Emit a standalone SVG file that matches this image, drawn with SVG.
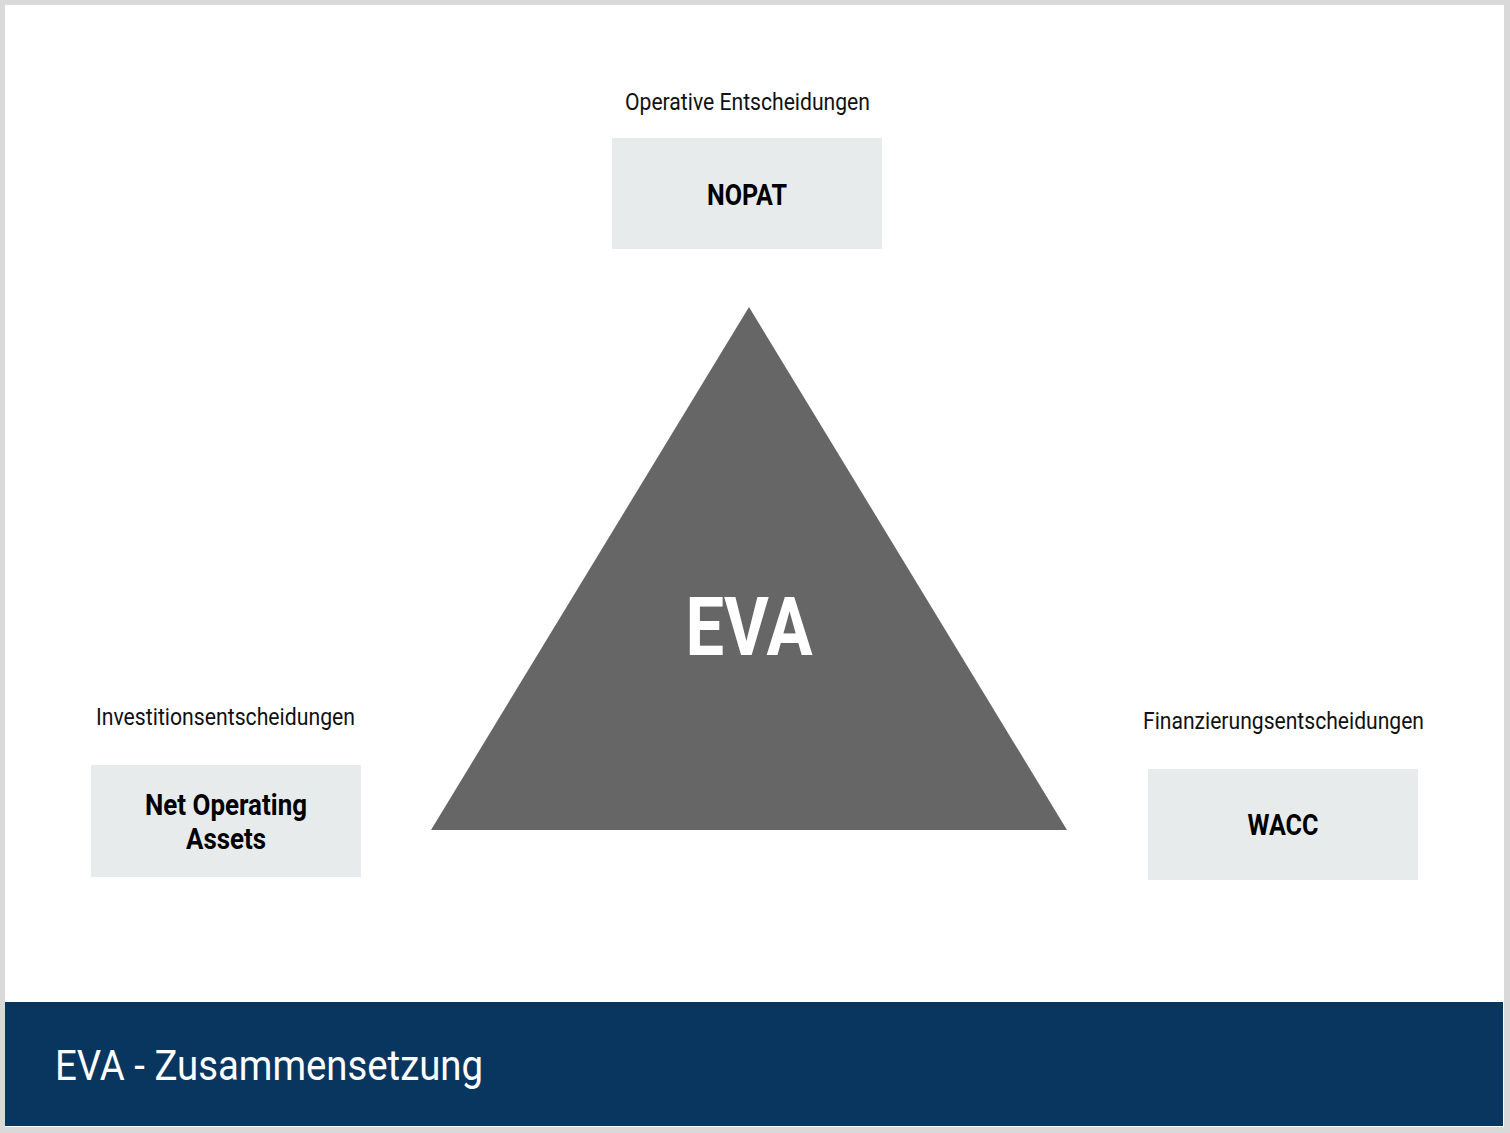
<svg xmlns="http://www.w3.org/2000/svg" width="1510" height="1133" viewBox="0 0 1510 1133">
<style>
.lbl{font-family:Roboto,"Liberation Sans",sans-serif;font-size:24px;fill:#111;}
.box{fill:#e8ebec;}
.bt{font-family:Roboto,"Liberation Sans",sans-serif;font-size:30px;font-weight:bold;fill:#000;}
</style>
<rect x="0" y="0" width="1510" height="1133" fill="#d9d9d9"/>
<rect x="5" y="5" width="1499" height="1122" fill="#ffffff"/>
<g id="triangle">
<polygon points="749,307 431,830 1067,830" fill="#666666"/>
<text x="749" y="655" text-anchor="middle" font-family="Roboto,'Liberation Sans',sans-serif" font-size="82" font-weight="bold" fill="#ffffff" textLength="127" lengthAdjust="spacingAndGlyphs">EVA</text>
</g>
<g id="connectors"></g>
<g id="nopat">
<text class="lbl" x="747.5" y="110" text-anchor="middle" textLength="245" lengthAdjust="spacingAndGlyphs">Operative Entscheidungen</text>
<rect class="box" x="612" y="138" width="270" height="111"/>
<text class="bt" x="747" y="205" text-anchor="middle" textLength="80" lengthAdjust="spacingAndGlyphs">NOPAT</text>
</g>
<g id="noa">
<text class="lbl" x="225.5" y="725" text-anchor="middle" textLength="259" lengthAdjust="spacingAndGlyphs">Investitionsentscheidungen</text>
<rect class="box" x="91" y="765" width="270" height="112"/>
<text class="bt" x="226" y="815" text-anchor="middle" textLength="162" lengthAdjust="spacingAndGlyphs">Net Operating</text>
<text class="bt" x="226" y="849" text-anchor="middle" textLength="80" lengthAdjust="spacingAndGlyphs">Assets</text>
</g>
<g id="wacc">
<text class="lbl" x="1283.5" y="729" text-anchor="middle" textLength="281" lengthAdjust="spacingAndGlyphs">Finanzierungsentscheidungen</text>
<rect class="box" x="1148" y="769" width="270" height="111"/>
<text class="bt" x="1283" y="835" text-anchor="middle" textLength="71" lengthAdjust="spacingAndGlyphs">WACC</text>
</g>
<g id="title">
<rect x="5" y="1002" width="1498" height="124" fill="#09365f"/>
<text x="55" y="1080" font-family="Roboto,'Liberation Sans',sans-serif" font-size="42" fill="#ffffff" textLength="428" lengthAdjust="spacingAndGlyphs">EVA - Zusammensetzung</text>
</g>
</svg>
